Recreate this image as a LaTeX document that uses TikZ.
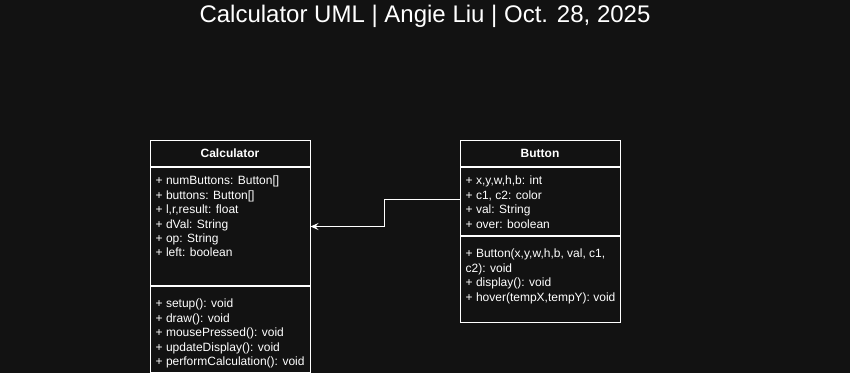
\documentclass[tikz,border=0pt]{standalone}
\usepackage{fontspec}
\setmainfont{Liberation Sans}
\usetikzlibrary{positioning, arrows.meta}

\definecolor{bgdark}{HTML}{121212}

\tikzset{
    umlpart/.style={draw=white, line width=1pt, minimum width=160, inner sep=0, anchor=north,
                    font=\fontsize{12}{14.4}\selectfont},
    members/.style={anchor=north west, align=left, inner sep=0,
                    font=\fontsize{12}{14.4}\selectfont},
    heading/.style={font=\fontsize{24}{28}\selectfont},
    link/.style={draw=white, line width=1pt, -{Stealth[length=8pt, width=7pt, inset=3pt]}}
}

\begin{document}
\begin{tikzpicture}[x=1pt, y=-1pt, every node/.style={text=white}]
    \fill[bgdark] (0,0) rectangle (850,373);
    \useasboundingbox (0,0) rectangle (850,373);

    \node[heading] (title) at (425,16) {Calculator UML | Angie Liu | Oct. 28, 2025};

    % klasa Calculator
    \node[umlpart, minimum height=26] (calcHead) at (230,140) {\bfseries Calculator};
    \node[umlpart, minimum height=118] (calcAttr) at (calcHead.south) {};
    \node[umlpart, minimum height=86] (calcMeth) at (calcAttr.south) {};

    \node[members] (calcAttrList) at ([xshift=6pt, yshift=-9pt]calcAttr.north west)
        {+ numButtons: Button[]\\ + buttons: Button[]\\ + l,r,result: float\\
         + dVal: String\\ + op: String\\ + left: boolean};
    \node[members] (calcMethList) at ([xshift=6pt, yshift=-13pt]calcMeth.north west)
        {+ setup(): void\\ + draw(): void\\ + mousePressed(): void\\
         + updateDisplay(): void\\ + performCalculation(): void};

    % klasa Button
    \node[umlpart, minimum height=26] (btnHead) at (540,140) {\bfseries Button};
    \node[umlpart, minimum height=68] (btnAttr) at (btnHead.south) {};
    \node[umlpart, minimum height=86] (btnMeth) at (btnAttr.south) {};

    \node[members] (btnAttrList) at ([xshift=6pt, yshift=-9pt]btnAttr.north west)
        {+ x,y,w,h,b: int\\ + c1, c2: color\\ + val: String\\ + over: boolean};
    \node[members] (btnMethList) at ([xshift=6pt, yshift=-13pt]btnMeth.north west)
        {+ Button(x,y,w,h,b, val, c1,\\ c2): void\\ + display(): void\\
         + hover(tempX,tempY): void};

    % veza Button -> Calculator
    \draw[link] ([yshift=2pt]btnAttr.west) -- ++(-75,0) |- (calcAttr.east);
\end{tikzpicture}
\end{document}
